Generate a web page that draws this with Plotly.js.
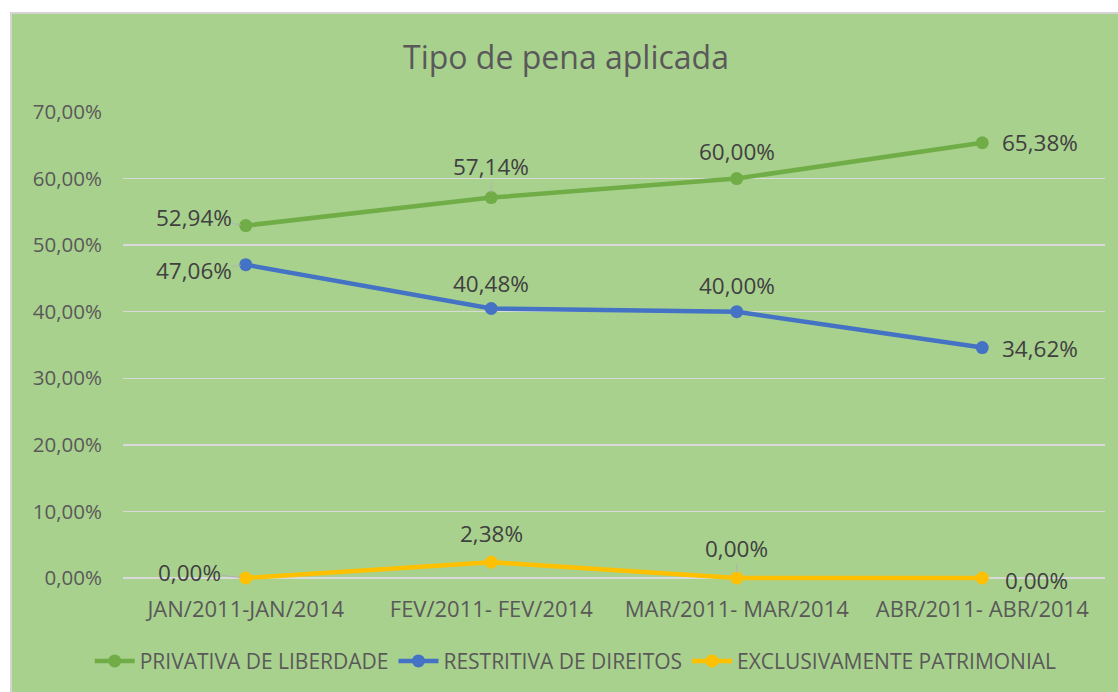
<!DOCTYPE html>
<html><head><meta charset="utf-8">
<script src="https://cdn.plot.ly/plotly-3.0.1.min.js"></script>
<style>
html,body{margin:0;padding:0;background:#fff;width:1118px;height:692px;overflow:hidden;}
#chart{position:absolute;left:10px;top:12px;width:1108px;height:680px;border-left:2px solid #d4d4d4;border-top:2px solid #d4d4d4;background:#a9d18e;}
</style></head>
<body><div id="chart"></div>
<script>
const categories = ["JAN/2011-JAN/2014", "FEV/2011- FEV/2014", "MAR/2011- MAR/2014", "ABR/2011- ABR/2014"];
const seriesNames = ["PRIVATIVA DE LIBERDADE", "RESTRITIVA DE DIREITOS", "EXCLUSIVAMENTE PATRIMONIAL"];
const privativa = [52.94, 57.14, 60.00, 65.38];
const restritiva = [47.06, 40.48, 40.00, 34.62];
const patrimonial = [0.00, 2.38, 0.00, 0.00];
const colors = ["#70ad47", "#4472c4", "#ffc000"];
const yTicks = [0, 10, 20, 30, 40, 50, 60, 70];

// label offsets (pixels) per series/point: [ax, ay, leader]
const labelOffsets = [
  [[-52, -8, true], [0, -31, true], [0, -27, false], [58, 0, false]],
  [[-52, 6, true], [0, -25, false], [0, -26, false], [58, 1, false]],
  [[-56, -6, true], [0, -29, false], [0, -30, true], [54, 2, false]]
];

const allSeries = [privativa, restritiva, patrimonial];
const fmt = v => v.toFixed(2).replace('.', ',') + '%';
const FONT = 'Open Sans, sans-serif';

const traces = allSeries.map((vals, i) => ({
  x: categories, y: vals, name: seriesNames[i], type: 'scatter', mode: 'lines+markers',
  line: {color: colors[i], width: 4.5},
  marker: {color: colors[i], size: 13},
  cliponaxis: false,
  hoverinfo: 'skip'
}));

const annotations = [];
allSeries.forEach((vals, i) => {
  vals.forEach((v, j) => {
    const o = labelOffsets[i][j];
    annotations.push({
      x: categories[j], y: v, xref: 'x', yref: 'y', text: fmt(v),
      showarrow: true, ax: o[0], ay: o[1], axref: 'pixel', ayref: 'pixel',
      arrowhead: 0, arrowwidth: 1, arrowcolor: o[2] ? '#b0b0b0' : 'rgba(0,0,0,0)',
      standoff: 5, borderpad: 0,
      font: {family: FONT, size: 22.5, color: '#404040'}
    });
  });
});

const layout = {
  width: 1108, height: 680,
  paper_bgcolor: '#a9d18e', plot_bgcolor: '#a9d18e',
  margin: {l: 111, r: 15, t: 98, b: 106},
  separators: ',.',
  title: {text: 'Tipo de pena aplicada', x: 0.5, xanchor: 'center', y: 0.935, yanchor: 'middle',
    font: {family: FONT, size: 32, color: '#595959'}},
  xaxis: {type: 'category', range: [-0.5, 3.5], showgrid: false, zeroline: false, showline: false,
    ticks: '', ticklabelstandoff: 6,
    tickfont: {family: FONT, size: 22, color: '#595959'}},
  yaxis: {range: [-1.5, 70], tickvals: yTicks, ticktext: yTicks.map(fmt), showgrid: true, gridcolor: '#d9d9d9', gridwidth: 1.5,
    zeroline: false, showline: false, ticks: '', ticklabelstandoff: 20,
    tickfont: {family: FONT, size: 20.5, color: '#595959'}},
  legend: {orientation: 'h', x: 0.461, xanchor: 'center', y: -0.154, yanchor: 'middle',
    bgcolor: 'rgba(0,0,0,0)', font: {family: FONT, size: 21, color: '#595959'},
    itemwidth: 40},
  annotations: annotations,
  showlegend: true
};

Plotly.newPlot('chart', traces, layout, {displayModeBar: false, staticPlot: true});
</script>
</body></html>
